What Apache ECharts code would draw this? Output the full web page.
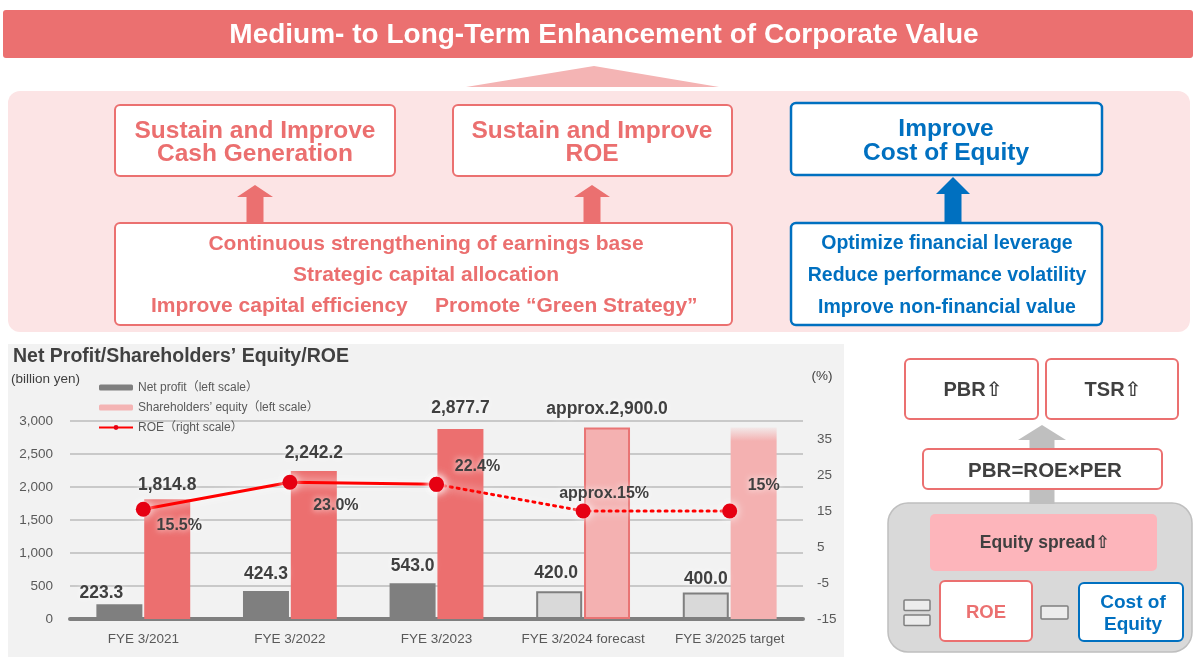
<!DOCTYPE html>
<html>
<head>
<meta charset="utf-8">
<script src="https://cdn.jsdelivr.net/npm/echarts@6/dist/echarts.min.js"></script>
<style>
html,body{margin:0;padding:0;background:#fff;}
#main{width:1193px;height:657px;}
</style>
</head>
<body>
<div id="main"></div>
<script>
// fiscal years
var yearList=['FYE 3/2021','FYE 3/2022','FYE 3/2023','FYE 3/2024 forecast','FYE 3/2025 target'];
// net profit (billion yen)
var profitList=[223.3,424.3,543.0,420.0,400.0];
// shareholders' equity (billion yen)
var equityList=[1814.8,2242.2,2877.7,2900.0,2900.0];
var equityText=['1,814.8','2,242.2','2,877.7','approx.2,900.0',''];
// ROE (%)
var roeList=[15.5,23.0,22.4,15,15];
var roeText=['15.5%','23.0%','22.4%','approx.15%','15%'];
// index from which values are plan, not actual
var planFrom=3;

var FONT='"Liberation Sans","DejaVu Sans","Noto Sans CJK JP",sans-serif';
var DARK='#404040';
var PINK='#eb6f6f';
var BLUE='#0070c0';

// label placement tweaks
var profitDist=[2,8,8,9,5];
var profitShift=[-18,0,0,-3,0];
var equityDist=[5,9,12,10,0];
var roeOffset=[[36,16],[46,23],[41,-18],[21,-17],[34,-25]];

var profitData=profitList.map(function(v,i){
	var d={value:v,label:{distance:profitDist[i],offset:[profitShift[i],0]}};
	if(i>=planFrom){
		d.itemStyle={color:'#d9d9d9',borderColor:'#7f7f7f',borderWidth:2};
	}
	return d;
});
var equityData=equityList.map(function(v,i){
	var d={value:v,label:{distance:equityDist[i]}};
	if(i<planFrom){
		d.itemStyle={color:'#ec6f6f'};
	}else if(i==planFrom){
		d.itemStyle={color:'#f4b1b1',borderColor:'#e97474',borderWidth:2};
	}else{
		d.itemStyle={color:new echarts.graphic.LinearGradient(0,0,0,1,[
			{offset:0,color:'rgba(244,177,177,0.15)'},
			{offset:0.07,color:'#f4b1b1'},
			{offset:1,color:'#f4b1b1'}])};
	}
	return d;
});
// solid line for actuals, dotted for plan
var roeActual=roeList.map(function(v,i){
	return i<planFrom ? {value:v,label:{offset:roeOffset[i]}} : '-';
});
var roePlan=roeList.map(function(v,i){
	if(i<planFrom-1) return '-';
	if(i==planFrom-1) return {value:v,label:{show:false}};
	return {value:v,label:{offset:roeOffset[i]}};
});

function box(x,y,w,h,stroke,fill,lw,r){
	return {type:'rect',shape:{x:x,y:y,width:w,height:h,r:r==null?5:r},
		style:{fill:fill||'#fff',stroke:stroke||null,lineWidth:lw||0}};
}
function txt(x,y,s,size,color,align,weight){
	return {type:'text',x:x,y:y,style:{text:s,fill:color,
		font:(weight||'bold')+' '+size+'px '+FONT,align:align||'center',verticalAlign:'middle'}};
}
function arrow(cx,tip,headY,bottom,hw,sw,color){
	return {type:'polygon',shape:{points:[[cx,tip],[cx+hw,headY],[cx+sw,headY],[cx+sw,bottom],
		[cx-sw,bottom],[cx-sw,headY],[cx-hw,headY]]},style:{fill:color}};
}

var bg=box(8,344,836,313,null,'#f2f2f2',0,0);
bg.z=-10;

var graphics=[
	bg,
	// banner
	box(3,10,1190,48,null,'#eb7070',0,3),
	txt(604,35,'Medium- to Long-Term Enhancement of Corporate Value',28,'#fff'),
	{type:'polygon',shape:{points:[[594,66],[719,87],[466,87]]},style:{fill:'#f4b4b4'}},
	box(8,91,1182,241,null,'#fce4e5',0,12),
	// left side
	box(115,105,280,71,'#eb7070','#fff',2),
	txt(255,131,'Sustain and Improve',24.5,PINK),
	txt(255,154,'Cash Generation',24.5,PINK),
	box(453,105,279,71,'#eb7070','#fff',2),
	txt(592,131,'Sustain and Improve',24.5,PINK),
	txt(592,154,'ROE',24.5,PINK),
	arrow(255,185,197,223,18,8.5,'#eb7070'),
	arrow(592,185,197,223,18,8.5,'#eb7070'),
	box(115,223,617,102,'#eb7070','#fff',2),
	txt(426,244,'Continuous strengthening of earnings base',21,PINK),
	txt(426,275,'Strategic capital allocation',21,PINK),
	txt(151,306,'Improve capital efficiency',21,PINK,'left'),
	txt(435,306,'Promote \u201cGreen Strategy\u201d',21,PINK,'left'),
	// right side
	box(791,103,311,72,BLUE,'#fff',2.5),
	txt(946,129,'Improve',24.5,BLUE),
	txt(946,153,'Cost of Equity',24.5,BLUE),
	arrow(953,177,194,223,17,8.5,BLUE),
	box(791,223,311,102,BLUE,'#fff',2.5),
	txt(947,244,'Optimize financial leverage',19.5,BLUE),
	txt(947,276,'Reduce performance volatility',19.5,BLUE),
	txt(947,308,'Improve non-financial value',19.5,BLUE),
	// chart captions
	txt(13,357,'Net Profit/Shareholders\u2019 Equity/ROE',19.5,DARK,'left'),
	txt(11,379,'(billion yen)',13.5,DARK,'left','normal'),
	txt(822,376,'(%)',13.5,DARK,'center','normal'),
	// PBR diagram
	box(888,503,304,149,'#bfbfbf','#d9d9d9',1.5,20),
	arrow(1042,425,440,504,24,12.5,'#bfbfbf'),
	box(905,359,133,60,'#eb7070','#fff',2),
	txt(973,390,'PBR\u21e7',20,DARK),
	box(1046,359,132,60,'#eb7070','#fff',2),
	txt(1113,390,'TSR\u21e7',20,DARK),
	box(923,449,239,40,'#eb7070','#fff',2),
	txt(1045,471,'PBR=ROE\u00d7PER',20.5,DARK),
	box(930,514,227,57,null,'#fdb5bb',0,5),
	txt(1045,543,'Equity spread\u21e7',17.5,DARK),
	box(940,581,92,60,'#eb7070','#fff',2),
	txt(986,613,'ROE',18.5,'#eb7070'),
	box(904,600,26,10.5,'#7f7f7f','#ececec',1.5,1),
	box(904,615,26,10.5,'#7f7f7f','#ececec',1.5,1),
	box(1041,606,27,13,'#7f7f7f','#ececec',1.5,1),
	box(1079,583,104,58,BLUE,'#fff',2),
	txt(1133,603,'Cost of',19,BLUE),
	txt(1133,625,'Equity',19,BLUE)
];

var valueLabel={show:true,position:'top',color:DARK,fontSize:17.5,fontWeight:'bold',fontFamily:FONT,
	textShadowColor:'#fff',textShadowBlur:6};
var roeLabel={show:true,position:'inside',color:DARK,fontSize:16,fontWeight:'bold',fontFamily:FONT,
	textShadowColor:'#fff',textShadowBlur:6,
	formatter:function(p){return roeText[p.dataIndex];}};
var roeLine={color:'#ff0000',width:3,shadowColor:'rgba(255,255,255,1)',shadowBlur:10};
var roeDot={color:'#e60012',shadowColor:'rgba(255,255,255,1)',shadowBlur:10};

var option={
	animation:false,
	textStyle:{fontFamily:FONT},
	graphic:graphics,
	grid:{left:70,right:390,top:421,bottom:38},
	legend:{
		orient:'vertical',left:98,top:381,padding:0,itemWidth:34,itemHeight:6,itemGap:7,
		textStyle:{color:'#595959',fontSize:12,lineHeight:13,fontFamily:FONT},
		data:['Net profit\uff08left scale\uff09','Shareholders\u2019 equity\uff08left scale\uff09','ROE\uff08right scale\uff09']
	},
	xAxis:{
		type:'category',data:yearList,
		axisTick:{show:false},
		axisLine:{lineStyle:{color:'#7f7f7f',width:4}},
		axisLabel:{color:'#595959',fontSize:13.5,margin:14,interval:0}
	},
	yAxis:[
		{type:'value',min:0,max:3000,interval:500,
			axisLine:{show:false},axisTick:{show:false},
			axisLabel:{color:'#595959',fontSize:13.5,margin:17,
				formatter:function(v){return v.toLocaleString('en-US');}},
			splitLine:{lineStyle:{color:'#c9c9c9',width:2}}},
		{type:'value',min:-15,max:40,interval:10,position:'right',
			axisLine:{show:false},axisTick:{show:false},splitLine:{show:false},
			axisLabel:{color:'#595959',fontSize:13.5,margin:14,showMaxLabel:false}}
	],
	series:[
		{name:'Net profit\uff08left scale\uff09',type:'bar',barWidth:46,barGap:'4%',
			itemStyle:{color:'#7f7f7f'},data:profitData,
			label:Object.assign({},valueLabel,{formatter:function(p){return p.value.toFixed(1);}})},
		{name:'Shareholders\u2019 equity\uff08left scale\uff09',type:'bar',barWidth:46,barGap:'4%',
			itemStyle:{color:'#f4b4b4'},data:equityData,
			label:Object.assign({},valueLabel,{formatter:function(p){return equityText[p.dataIndex];}})},
		{name:'ROE\uff08right scale\uff09',type:'line',yAxisIndex:1,z:5,
			symbol:'circle',symbolSize:15,data:roeActual,
			lineStyle:roeLine,itemStyle:roeDot,label:roeLabel},
		{name:'ROE\uff08right scale\uff09',type:'line',yAxisIndex:1,z:5,
			symbol:'circle',symbolSize:15,data:roePlan,
			lineStyle:Object.assign({},roeLine,{type:[2,5],cap:'round'}),itemStyle:roeDot,label:roeLabel}
	]
};

var myChart=echarts.init(document.getElementById('main'));
myChart.setOption(option);
</script>
</body>
</html>
